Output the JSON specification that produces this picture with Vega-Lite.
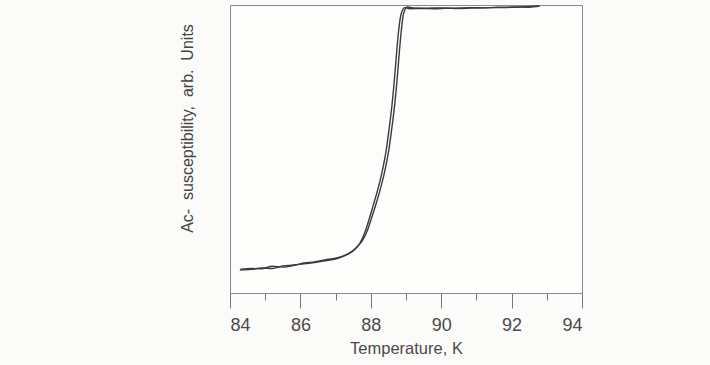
{
  "$schema": "https://vega.github.io/schema/vega-lite/v6.json",
  "autosize": {"type": "none"},
  "width": 352,
  "height": 288,
  "padding": {"left": 230, "top": 5, "right": 128, "bottom": 72},
  "background": "#fbfbf9",
  "config": {
    "view": {"stroke": "#8a8a8a", "strokeWidth": 1, "fill": "#fdfdfc"},
    "font": "Liberation Sans"
  },
  "data": {"values": [
    {"run": "A", "T": 84.28, "v": 8.0},
    {"run": "A", "T": 84.6, "v": 8.2},
    {"run": "A", "T": 84.9, "v": 8.7},
    {"run": "A", "T": 85.2, "v": 8.5},
    {"run": "A", "T": 85.5, "v": 9.4},
    {"run": "A", "T": 85.8, "v": 9.7},
    {"run": "A", "T": 86.1, "v": 10.1},
    {"run": "A", "T": 86.4, "v": 10.6},
    {"run": "A", "T": 86.7, "v": 11.2},
    {"run": "A", "T": 87.0, "v": 11.8},
    {"run": "A", "T": 87.2, "v": 12.6},
    {"run": "A", "T": 87.4, "v": 13.8},
    {"run": "A", "T": 87.55, "v": 15.2},
    {"run": "A", "T": 87.7, "v": 17.5},
    {"run": "A", "T": 87.83, "v": 21.0},
    {"run": "A", "T": 87.95, "v": 25.5},
    {"run": "A", "T": 88.07, "v": 30.5},
    {"run": "A", "T": 88.2, "v": 36.0},
    {"run": "A", "T": 88.32, "v": 42.0},
    {"run": "A", "T": 88.43, "v": 49.0},
    {"run": "A", "T": 88.52, "v": 57.0},
    {"run": "A", "T": 88.6, "v": 65.0},
    {"run": "A", "T": 88.67, "v": 74.0},
    {"run": "A", "T": 88.73, "v": 83.0},
    {"run": "A", "T": 88.79, "v": 91.0},
    {"run": "A", "T": 88.86, "v": 96.8},
    {"run": "A", "T": 88.96, "v": 99.1},
    {"run": "A", "T": 89.1, "v": 98.7},
    {"run": "A", "T": 89.4, "v": 98.8},
    {"run": "A", "T": 89.8, "v": 98.7},
    {"run": "A", "T": 90.2, "v": 98.9},
    {"run": "A", "T": 90.6, "v": 98.8},
    {"run": "A", "T": 91.0, "v": 99.0},
    {"run": "A", "T": 91.4, "v": 99.1},
    {"run": "A", "T": 91.8, "v": 99.1},
    {"run": "A", "T": 92.2, "v": 99.3},
    {"run": "A", "T": 92.5, "v": 99.2},
    {"run": "A", "T": 92.8, "v": 99.6},
    {"run": "B", "T": 84.3, "v": 8.3},
    {"run": "B", "T": 84.6, "v": 8.5},
    {"run": "B", "T": 84.9, "v": 8.4},
    {"run": "B", "T": 85.2, "v": 9.3},
    {"run": "B", "T": 85.5, "v": 9.0},
    {"run": "B", "T": 85.8, "v": 9.5},
    {"run": "B", "T": 86.1, "v": 10.4},
    {"run": "B", "T": 86.4, "v": 10.8},
    {"run": "B", "T": 86.7, "v": 11.5},
    {"run": "B", "T": 87.0, "v": 12.1},
    {"run": "B", "T": 87.2, "v": 12.8},
    {"run": "B", "T": 87.4, "v": 13.9},
    {"run": "B", "T": 87.58, "v": 15.6},
    {"run": "B", "T": 87.76, "v": 18.2},
    {"run": "B", "T": 87.9, "v": 21.6},
    {"run": "B", "T": 88.02, "v": 26.0},
    {"run": "B", "T": 88.15, "v": 31.0},
    {"run": "B", "T": 88.28, "v": 36.5},
    {"run": "B", "T": 88.4, "v": 42.5},
    {"run": "B", "T": 88.51, "v": 49.5},
    {"run": "B", "T": 88.6, "v": 57.5},
    {"run": "B", "T": 88.68, "v": 65.5},
    {"run": "B", "T": 88.75, "v": 74.5},
    {"run": "B", "T": 88.81, "v": 83.5},
    {"run": "B", "T": 88.87, "v": 91.5},
    {"run": "B", "T": 88.93, "v": 97.0},
    {"run": "B", "T": 89.03, "v": 99.3},
    {"run": "B", "T": 89.2, "v": 99.0},
    {"run": "B", "T": 89.6, "v": 98.9},
    {"run": "B", "T": 90.0, "v": 99.0},
    {"run": "B", "T": 90.4, "v": 98.8},
    {"run": "B", "T": 90.8, "v": 99.1},
    {"run": "B", "T": 91.2, "v": 99.0},
    {"run": "B", "T": 91.6, "v": 99.2},
    {"run": "B", "T": 92.0, "v": 99.2},
    {"run": "B", "T": 92.4, "v": 99.4},
    {"run": "B", "T": 92.78, "v": 99.7}
  ]},
  "mark": {"type": "line", "strokeWidth": 1.4, "interpolate": "monotone"},
  "encoding": {
    "x": {
      "field": "T", "type": "quantitative",
      "scale": {"domain": [84, 94], "nice": false, "zero": false},
      "axis": {
        "title": "Temperature, K",
        "values": [84, 85, 86, 87, 88, 89, 90, 91, 92, 93, 94],
        "labelExpr": "datum.value % 2 === 0 ? datum.label : ''",
        "tickSize": {"condition": {"test": "datum.value % 2 === 0", "value": 15}, "value": 7},
        "tickColor": "#777",
        "domainColor": "#8a8a8a",
        "grid": false,
        "labelFontSize": 18,
        "labelColor": "#4a4a4a",
        "labelPadding": 8,
        "labelFont": "Liberation Sans",
        "titleFont": "Liberation Sans",
        "titleFontSize": 16.5,
        "titleFontWeight": "normal",
        "titleColor": "#4a4a4a",
        "titlePadding": 6
      }
    },
    "y": {
      "field": "v", "type": "quantitative",
      "scale": {"domain": [0, 100], "nice": false},
      "axis": {
        "title": "Ac-\u00a0\u00a0susceptibility,\u00a0\u00a0arb.\u00a0\u00a0Units",
        "ticks": false,
        "labels": false,
        "domain": false,
        "grid": false,
        "titleFont": "Liberation Sans",
        "titleFontSize": 16,
        "titleFontWeight": "normal",
        "titleColor": "#444",
        "titleX": -43,
        "titleY": 123,
        "titleAngle": -90,
        "titleAlign": "center",
        "titleBaseline": "middle"
      }
    },
    "detail": {"field": "run", "type": "nominal"},
    "color": {"value": "#3a3a3a"}
  }
}
